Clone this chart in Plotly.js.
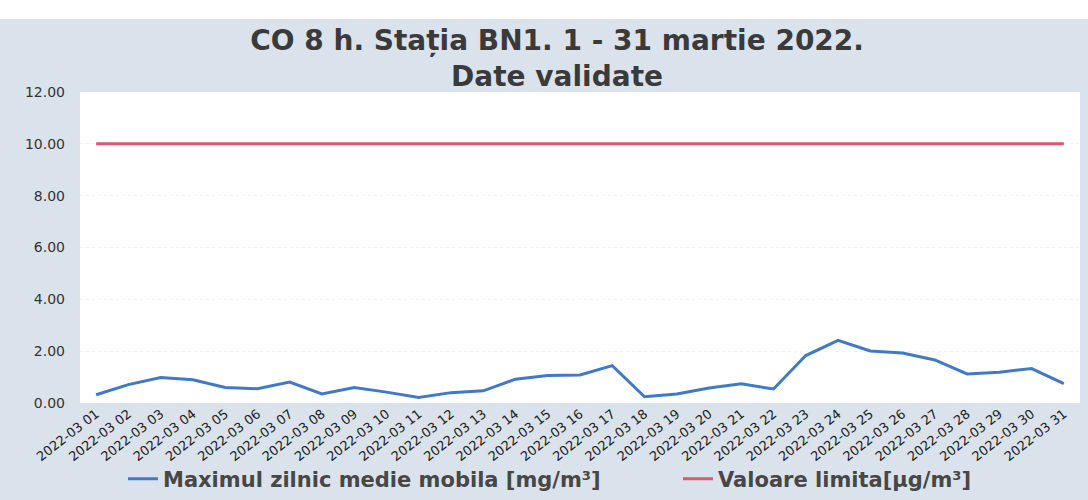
<!DOCTYPE html>
<html>
<head>
<meta charset="utf-8">
<script src="https://cdn.plot.ly/plotly-3.0.1.min.js"></script>
<style>
html,body{margin:0;padding:0;background:#ffffff;}
#chart{width:1088px;height:500px;}
</style>
</head>
<body>
<div id="chart"></div>
<script>
// Categories (x-axis tick labels)
const days = [
  "2022-03 01","2022-03 02","2022-03 03","2022-03 04","2022-03 05","2022-03 06","2022-03 07",
  "2022-03 08","2022-03 09","2022-03 10","2022-03 11","2022-03 12","2022-03 13","2022-03 14",
  "2022-03 15","2022-03 16","2022-03 17","2022-03 18","2022-03 19","2022-03 20","2022-03 21",
  "2022-03 22","2022-03 23","2022-03 24","2022-03 25","2022-03 26","2022-03 27","2022-03 28",
  "2022-03 29","2022-03 30","2022-03 31"
];
// Maximul zilnic medie mobila [mg/m³]
const maxDaily = [
  0.32, 0.71, 0.98, 0.90, 0.60, 0.55, 0.81,
  0.35, 0.60, 0.42, 0.21, 0.40, 0.47, 0.92,
  1.06, 1.08, 1.44, 0.24, 0.35, 0.58, 0.74,
  0.54, 1.83, 2.42, 2.01, 1.93, 1.66, 1.12,
  1.19, 1.33, 0.75
];
// Valoare limita
const limitValue = [
  10,10,10,10,10,10,10,10,10,10,10,10,10,10,10,10,
  10,10,10,10,10,10,10,10,10,10,10,10,10,10,10
];
const yTicks = [0, 2, 4, 6, 8, 10, 12];
const yTickText = ["0.00","2.00","4.00","6.00","8.00","10.00","12.00"];

const legendFont = {family: "DejaVu Sans", size: 21, color: "#474747", weight: "bold"};

const traces = [
  {
    x: days, y: maxDaily, type: "scatter", mode: "lines",
    name: "Maximul zilnic medie mobila [mg/m³]",
    line: {color: "#4179c6", width: 3},
    legend: "legend"
  },
  {
    x: days, y: limitValue, type: "scatter", mode: "lines",
    name: "Valoare limita[µg/m³]",
    line: {color: "#e0566a", width: 3},
    legend: "legend2"
  }
];

const layout = {
  width: 1088, height: 500,
  paper_bgcolor: "#dae3ec",
  plot_bgcolor: "#ffffff",
  margin: {l: 80, r: 8, t: 92, b: 97, autoexpand: false},
  title: {
    text: "CO 8 h. Stația BN1. 1 - 31 martie 2022.<br>Date validate",
    font: {family: "DejaVu Sans", size: 28, color: "#3a3a3a", weight: "bold"},
    x: 0.512, xref: "container", xanchor: "center",
    y: 0.9, yref: "container", yanchor: "middle"
  },
  xaxis: {
    type: "category",
    range: [-0.5, 30.5],
    tickangle: -38,
    tickfont: {family: "DejaVu Sans", size: 13, color: "#222222"},
    showgrid: false, showline: false, zeroline: false,
    ticks: "", fixedrange: true, automargin: false
  },
  yaxis: {
    range: [0, 12],
    tickvals: yTicks, ticktext: yTickText,
    tickfont: {family: "DejaVu Sans", size: 14, color: "#333333"},
    showgrid: true, gridcolor: "#f1f1f1", griddash: "dot", gridwidth: 1,
    zeroline: false, showline: false,
    ticks: "", ticklabelstandoff: 14, automargin: false
  },
  showlegend: true,
  legend: {
    orientation: "h",
    x: 0.043, xanchor: "left",
    y: -0.245, yanchor: "middle",
    font: legendFont,
    bgcolor: "rgba(0,0,0,0)",
    itemwidth: 30
  },
  legend2: {
    orientation: "h",
    x: 0.598, xanchor: "left",
    y: -0.245, yanchor: "middle",
    font: legendFont,
    bgcolor: "rgba(0,0,0,0)",
    itemwidth: 30
  },
  shapes: [
    {type: "rect", xref: "paper", yref: "paper", x0: -0.09, x1: 1.02, y0: 1.235, y1: 1.35,
     fillcolor: "#ffffff", line: {width: 0}, layer: "below"}
  ]
};

Plotly.newPlot("chart", traces, layout, {displayModeBar: false, staticPlot: true});
</script>
</body>
</html>
